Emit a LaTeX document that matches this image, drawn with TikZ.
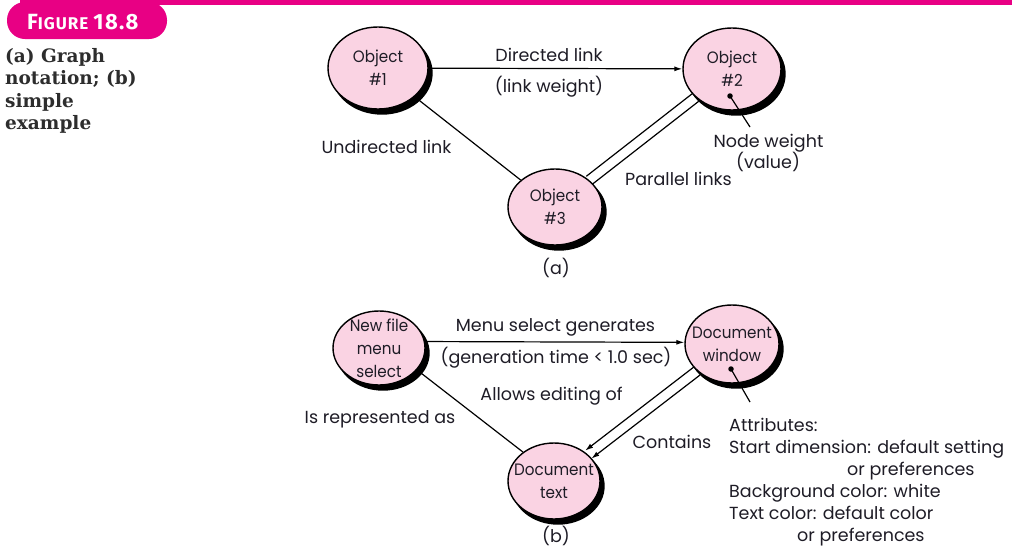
\documentclass[tikz,border=0pt]{standalone}
\usepackage{fontspec}
\setmainfont{Poppins}
\newfontfamily\innerfont[FakeStretch=0.92]{Poppins}
\newfontfamily\capfont{DejaVu Serif}
\newfontfamily\tagfont[LetterSpace=6]{Fira Sans}
\usetikzlibrary{shapes.geometric,arrows.meta}
\definecolor{brand}{RGB}{232,0,132}
\definecolor{bubble}{RGB}{250,211,227}
\definecolor{ink}{RGB}{30,28,38}
\definecolor{capink}{RGB}{45,45,45}
% a pink bubble with a solid black shadow to its lower right
% #1 name, #2 x, #3 y, #4 width, #5 height
\newcommand\bubble[5]{%
  \node[bubbleshadow, minimum width=#4pt, minimum height=#5pt] (#1s) at (#2+4,#3+5) {};
  \node[obj, minimum width=#4pt, minimum height=#5pt] (#1) at (#2,#3) {};}
\begin{document}
\begin{tikzpicture}[x=1pt,y=-1pt,
  obj/.style={ellipse, draw=black, line width=1.4pt, fill=bubble, inner sep=0pt},
  bubbleshadow/.style={ellipse, fill=black, draw=black, line width=1.4pt, inner sep=0pt},
  intext/.style={align=center, inner sep=0pt, text=ink, font=\innerfont\fontsize{16.5}{23}\selectfont},
  txt/.style={anchor=base, inner sep=0pt, text=ink, font=\fontsize{17.5}{23}\selectfont},
  attr/.style={txt, anchor=base west},
  caption/.style={anchor=base west, inner sep=0pt, text=capink, font=\capfont\bfseries\fontsize{18.5}{22}\selectfont},
  link/.style={line width=1.2pt, draw=black},
  arrow/.style={link, -{Latex[length=8pt,width=5pt]}},
  pin/.style={circle, fill=black, inner sep=0pt, minimum size=5.5pt}
]
\useasboundingbox (0,0) rectangle (1012,550);

% header rule and figure tag
\fill[brand] (20,0) rectangle (1012,4.5);
\fill[brand, rounded corners=18pt] (7,2) rectangle (167,39);
\node[anchor=base west, inner sep=0pt, text=white, font=\tagfont\bfseries] (tag) at (27,29)
  {\fontsize{22}{22}\selectfont F\fontsize{17}{17}\selectfont IGURE\ \fontsize{22}{22}\selectfont 18.8};

% side caption
\node[caption] (cap1) at (5,62) {(a) Graph};
\node[caption] (cap2) at (5,84) {notation; (b)};
\node[caption] (cap3) at (5,107) {simple};
\node[caption] (cap4) at (5,129) {example};

% (a) graph notation
\bubble{o1}{378}{68}{100}{82}
\node[intext] (o1t) at (o1) {Object\\\#1};
\bubble{o2}{732}{69}{98}{82}
\node[intext] (o2t) at (o2) {Object\\\#2};
\bubble{o3}{555}{207}{94}{76}
\node[intext] (o3t) at (o3) {Object\\\#3};

\draw[arrow] (o1) -- (o2);
\draw[link] (o1) -- (o3);
\draw[link, transform canvas={shift={(-3.1,-3.9)}}] (o3) -- (o2);
\draw[link, transform canvas={shift={(3.1,3.9)}}] (o3) -- (o2);

\node[pin] (nw) at (730,96) {};
\coordinate (nwend) at (750,127);
\draw[link] (nw.center) -- (nwend);

\node[txt] (la1) at (549,61.5) {Directed link};
\node[txt] (la2) at (549,92) {(link weight)};
\node[txt] (la3) at (386.5,153) {Undirected link};
\node[txt] (la4) at (678.5,185) {Parallel links};
\node[txt] (la5) at (768.5,147) {Node weight};
\node[txt] (la6) at (768,168) {(value)};
\node[txt] (pa) at (556,274) {(a)};

% (b) simple example
\bubble{nf}{379}{348}{92}{74}
\node[intext] (nft) at (nf) {New file\\menu\\select};
\bubble{dw}{732}{344}{94}{78}
\node[intext] (dwt) at (dw) {Document\\window};
\bubble{dt}{554}{481}{92}{76}
\node[intext] (dtt) at (dt) {Document\\text};

\draw[arrow] (nf.8) -- (dw.178);
\draw[link] (nf.-30) -- (dt.137);
\draw[arrow, transform canvas={shift={(-3.1,-4)}}] (dw) -- (dt);
\draw[arrow, transform canvas={shift={(3.1,4)}}] (dw) -- (dt);

\node[pin] (ap) at (731,369) {};
\coordinate (apend) at (750,402);
\draw[link] (ap.center) -- (apend);

\node[txt] (lb1) at (555.5,331) {Menu select generates};
\node[txt] (lb2) at (556,363) {(generation time < 1.0 sec)};
\node[txt] (lb3) at (551.5,400) {Allows editing of};
\node[txt] (lb4) at (380,423) {Is represented as};
\node[txt] (lb5) at (672,448) {Contains};
\node[txt] (pb) at (556,542) {(b)};

\node[attr] (at1) at (729,431) {Attributes:};
\node[attr] (at2) at (729,453) {Start dimension: default setting};
\node[attr] (at3) at (847,475) {or preferences};
\node[attr] (at4) at (729,497) {Background color: white};
\node[attr] (at5) at (729,519) {Text color: default color};
\node[attr] (at6) at (797,541) {or preferences};
\end{tikzpicture}
\end{document}
